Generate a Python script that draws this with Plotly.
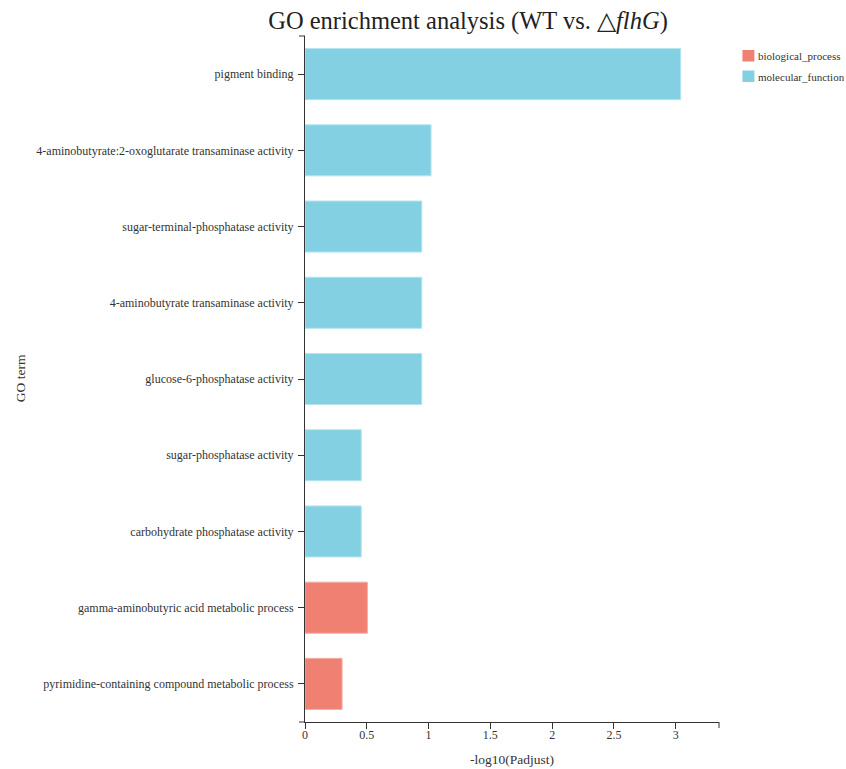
import plotly.graph_objects as go

# GO terms, top to bottom as listed on the chart
terms = [
    "pigment binding",
    "4-aminobutyrate:2-oxoglutarate transaminase activity",
    "sugar-terminal-phosphatase activity",
    "4-aminobutyrate transaminase activity",
    "glucose-6-phosphatase activity",
    "sugar-phosphatase activity",
    "carbohydrate phosphatase activity",
    "gamma-aminobutyric acid metabolic process",
    "pyrimidine-containing compound metabolic process",
]
neg_log10_padj = [3.04, 1.02, 0.945, 0.945, 0.945, 0.455, 0.455, 0.505, 0.30]
ontology = [
    "molecular_function", "molecular_function", "molecular_function",
    "molecular_function", "molecular_function", "molecular_function",
    "molecular_function", "biological_process", "biological_process",
]
x_ticks = [0, 0.5, 1, 1.5, 2, 2.5, 3]
x_tick_labels = ["0", "0.5", "1", "1.5", "2", "2.5", "3"]
x_max = 3.35

colors = {"biological_process": "#f08072", "molecular_function": "#83d0e2"}
edge = {"biological_process": "#f6aca2", "molecular_function": "#b5e4ef"}

W, H = 846, 769
L, R, T, B = 304.5, 126.5, 36, 47
plot_w = W - L - R
plot_h = H - T - B
FONT = "Liberation Serif, Times New Roman, serif"
TXT = "#333333"

fig = go.Figure()
for cat in ["biological_process", "molecular_function"]:
    xs = [v for v, o in zip(neg_log10_padj, ontology) if o == cat]
    ys = [t for t, o in zip(terms, ontology) if o == cat]
    fig.add_trace(go.Bar(
        x=xs, y=ys, orientation="h", name=cat, width=0.67,
        marker=dict(color=colors[cat], line=dict(color=edge[cat], width=1)),
        showlegend=False,
    ))

# Outer ticks at the ends of the axis lines
px_x = 6 / plot_w
px_y = 6 / plot_h
shapes = [
    dict(type="line", xref="paper", yref="paper", x0=-px_x, x1=0, y0=1, y1=1,
         line=dict(color=TXT, width=1)),
    dict(type="line", xref="paper", yref="paper", x0=-px_x, x1=0, y0=0, y1=0,
         line=dict(color=TXT, width=1)),
    dict(type="line", xref="paper", yref="paper", x0=1, x1=1, y0=0, y1=-px_y,
         line=dict(color=TXT, width=1)),
]

# Legend swatches and labels
def px_to_paper_x(px):
    return (px - L) / plot_w

def px_to_paper_y(py):
    return (H - B - py) / plot_h

annotations = []
for i, cat in enumerate(["biological_process", "molecular_function"]):
    top = 50 + i * 20.5
    shapes.append(dict(type="rect", xref="paper", yref="paper",
                       x0=px_to_paper_x(743), x1=px_to_paper_x(755),
                       y0=px_to_paper_y(top + 11.5), y1=px_to_paper_y(top),
                       fillcolor=colors[cat], line=dict(width=0)))
    annotations.append(dict(text=cat, xref="paper", yref="paper",
                            x=px_to_paper_x(757), y=px_to_paper_y(top + 6),
                            xanchor="left", yanchor="middle", showarrow=False,
                            font=dict(family=FONT, size=11, color=TXT)))

annotations.append(dict(text="GO term", xref="paper", yref="paper",
                        x=px_to_paper_x(20), y=px_to_paper_y(378),
                        xanchor="center", yanchor="middle", textangle=-90,
                        showarrow=False, font=dict(family=FONT, size=13.5, color=TXT)))
annotations.append(dict(text="-log10(Padjust)", xref="paper", yref="paper",
                        x=px_to_paper_x(512), y=px_to_paper_y(759),
                        xanchor="center", yanchor="middle",
                        showarrow=False, font=dict(family=FONT, size=13.5, color=TXT)))

fig.update_layout(
    width=W, height=H,
    margin=dict(l=L, r=R, t=T, b=B, pad=0),
    paper_bgcolor="white", plot_bgcolor="white",
    font=dict(family=FONT, size=12, color=TXT),
    title=dict(text="GO enrichment analysis (WT vs. \u25b3<i>flhG</i>)",
               x=468 / W, xanchor="center", xref="container",
               y=1 - 20 / H, yanchor="middle", yref="container",
               font=dict(family=FONT, size=24.5, color="#222222")),
    barmode="overlay",
    shapes=shapes,
    annotations=annotations,
    showlegend=False,
)
fig.update_xaxes(
    range=[0, x_max], tickvals=x_ticks, ticktext=x_tick_labels,
    showline=True, linecolor=TXT, linewidth=1, mirror=False,
    ticks="outside", ticklen=6, tickcolor=TXT, tickwidth=1,
    ticklabelstandoff=-4,
    showgrid=False, zeroline=False, fixedrange=True,
    tickfont=dict(family=FONT, size=12, color=TXT),
)
fig.update_yaxes(
    categoryorder="array", categoryarray=terms[::-1],
    range=[-0.5, len(terms) - 0.5],
    showline=True, linecolor=TXT, linewidth=1,
    ticks="outside", ticklen=6, tickcolor=TXT, tickwidth=1,
    ticklabelstandoff=2,
    showgrid=False, zeroline=False, fixedrange=True,
    tickfont=dict(family=FONT, size=12, color=TXT),
)

fig.write_html("out.html")
